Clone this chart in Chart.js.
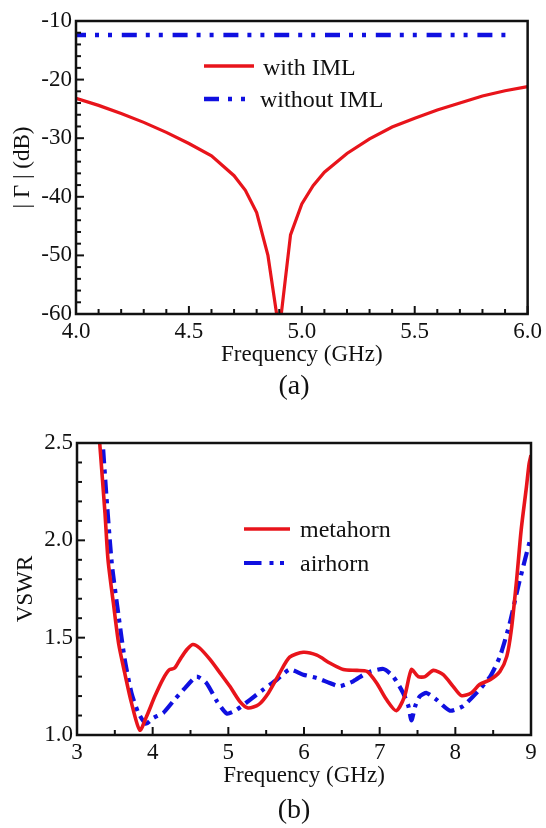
<!DOCTYPE html>
<html>
<head>
<meta charset="utf-8">
<script src="https://cdn.jsdelivr.net/npm/chart.js@4.4.1/dist/chart.umd.min.js"></script>
<style>
  html, body { margin: 0; padding: 0; background: #fff; }
  canvas { display: block; }
</style>
</head>
<body>
<canvas id="chartA" width="546" height="414"></canvas>
<canvas id="chartB" width="546" height="414"></canvas>
<script>
// (a) |Γ| in dB vs frequency
const freqA = [4.0, 4.1, 4.2, 4.3, 4.4, 4.5, 4.6, 4.7, 4.75, 4.8, 4.85, 4.9, 4.95,
  5.0, 5.05, 5.1, 5.2, 5.3, 5.4, 5.5, 5.6, 5.7, 5.8, 5.9, 6.0];
const withIML = [-23.2, -24.4, -25.8, -27.3, -29.0, -30.9, -33.0, -36.4, -38.9, -42.7, -50.0, -63.0, -46.5,
  -41.2, -38.1, -35.8, -32.6, -30.1, -28.1, -26.6, -25.2, -24.0, -22.8, -21.9, -21.2];
const freqNoIML = [4.0, 5.94];
const withoutIML = [-12.4, -12.4];

// (b) VSWR vs frequency
const freqMeta = [3.28, 3.30, 3.37, 3.41, 3.48, 3.55, 3.63, 3.72, 3.83, 3.92, 4.03, 4.14, 4.22, 4.29,
  4.36, 4.45, 4.53, 4.62, 4.76, 4.89, 5.02, 5.15, 5.26, 5.40, 5.53, 5.68, 5.81, 5.99, 6.17, 6.34,
  6.52, 6.70, 6.83, 6.96, 7.09, 7.22, 7.33, 7.42, 7.51, 7.60, 7.71, 7.84, 7.97, 8.08, 8.21, 8.32,
  8.46, 8.59, 8.68, 8.74, 8.81, 8.87, 8.94, 8.975, 9.0];
const metahorn = [2.62, 2.50, 2.14, 1.90, 1.68, 1.47, 1.32, 1.165, 1.025, 1.096, 1.20, 1.29, 1.335, 1.344,
  1.387, 1.438, 1.465, 1.447, 1.387, 1.319, 1.25, 1.173, 1.139, 1.156, 1.216, 1.319, 1.40, 1.425, 1.41, 1.37,
  1.336, 1.332, 1.327, 1.267, 1.182, 1.125, 1.20, 1.336, 1.30, 1.30, 1.332, 1.31, 1.25, 1.202, 1.216, 1.259,
  1.284, 1.327, 1.404, 1.54, 1.797, 2.053, 2.275, 2.394, 2.437];
const freqAir = [3.32, 3.34, 3.39, 3.46, 3.55, 3.63, 3.72, 3.81, 3.91, 4.01, 4.14, 4.27, 4.43, 4.58,
  4.71, 4.85, 4.98, 5.11, 5.29, 5.46, 5.64, 5.81, 5.99, 6.17, 6.34, 6.47, 6.65, 6.83, 7.05, 7.18,
  7.31, 7.38, 7.42, 7.47, 7.53, 7.62, 7.75, 7.93, 8.10, 8.28, 8.46, 8.59, 8.72, 8.83, 8.92, 9.0];
const airhorn = [2.62, 2.50, 2.22, 1.88, 1.61, 1.39, 1.216, 1.114, 1.058, 1.088, 1.114, 1.173, 1.242, 1.30,
  1.267, 1.173, 1.11, 1.13, 1.182, 1.233, 1.284, 1.336, 1.31, 1.293, 1.267, 1.25, 1.276, 1.319, 1.339, 1.30,
  1.216, 1.148, 1.075, 1.148, 1.199, 1.216, 1.182, 1.125, 1.148, 1.216, 1.30, 1.404, 1.575, 1.762, 1.90, 2.02];

const FONT = "'Liberation Serif', 'Times New Roman', serif";
const INK = '#111';
const RED = '#e8141b';
const BLUE = '#1010e0';

function toPoints(xs, ys) {
  return xs.map((x, i) => ({ x: x, y: ys[i] }));
}

// box round the plot with short inward ticks on the left and bottom
function frame(xTicks, yTicks) {
  return {
    id: 'frame',
    afterDatasetsDraw(chart) {
      const ctx = chart.ctx;
      const a = chart.chartArea;
      const sx = chart.scales.x, sy = chart.scales.y;
      ctx.save();
      ctx.strokeStyle = INK;
      ctx.lineWidth = 2;
      for (let i = 0; i <= xTicks.n; i++) {
        const px = sx.getPixelForValue(xTicks.min + i * xTicks.step);
        const len = i % xTicks.every === 0 ? 8 : 5;
        ctx.beginPath(); ctx.moveTo(px, a.bottom); ctx.lineTo(px, a.bottom - len); ctx.stroke();
      }
      for (let i = 0; i <= yTicks.n; i++) {
        const py = sy.getPixelForValue(yTicks.min + i * yTicks.step);
        const len = i % yTicks.every === 0 ? 8 : 5;
        ctx.beginPath(); ctx.moveTo(a.left, py); ctx.lineTo(a.left + len, py); ctx.stroke();
      }
      ctx.lineWidth = 2.5;
      ctx.strokeRect(a.left, a.top, a.right - a.left, a.bottom - a.top);
      ctx.restore();
    }
  };
}

// hand drawn legend and the panel letter
function notes(items, panel) {
  return {
    id: 'notes',
    afterDraw(chart) {
      const ctx = chart.ctx;
      ctx.save();
      items.forEach(it => {
        ctx.strokeStyle = it.color;
        ctx.lineWidth = it.width;
        ctx.setLineDash(it.dash);
        ctx.beginPath(); ctx.moveTo(it.x0, it.y); ctx.lineTo(it.x1, it.y); ctx.stroke();
        ctx.setLineDash([]);
        ctx.fillStyle = INK;
        ctx.font = '24px ' + FONT;
        ctx.textBaseline = 'alphabetic';
        ctx.textAlign = 'left';
        ctx.fillText(it.label, it.tx, it.ty);
      });
      ctx.font = '28px ' + FONT;
      ctx.textAlign = 'center';
      ctx.fillText(panel.text, panel.x, panel.y);
      ctx.restore();
    }
  };
}

function makeChart(id, cfg) {
  return new Chart(document.getElementById(id), {
    type: 'line',
    data: { datasets: cfg.datasets },
    options: {
      responsive: false,
      animation: false,
      devicePixelRatio: 1,
      layout: { padding: cfg.padding },
      elements: { point: { radius: 0 }, line: { tension: 0 } },
      plugins: { legend: { display: false }, tooltip: { enabled: false } },
      scales: {
        x: {
          type: 'linear',
          min: cfg.x.min, max: cfg.x.max,
          grid: { display: false, drawTicks: false },
          border: { display: false },
          ticks: {
            stepSize: cfg.x.step, autoSkip: false, maxRotation: 0, padding: cfg.x.pad,
            color: INK, font: { family: FONT, size: 23 },
            callback: cfg.x.fmt
          },
          title: {
            display: true, text: 'Frequency (GHz)', color: INK,
            font: { family: FONT, size: 23 }, padding: { top: 0, bottom: cfg.x.titlePad }
          },
          afterFit: s => { s.height = cfg.x.height; }
        },
        y: {
          min: cfg.y.min, max: cfg.y.max,
          grid: { display: false, drawTicks: false },
          border: { display: false },
          ticks: {
            stepSize: cfg.y.step, autoSkip: false, padding: 4,
            color: INK, font: { family: FONT, size: 23 },
            callback: cfg.y.fmt
          },
          title: {
            display: true, text: cfg.y.title, color: INK,
            font: { family: FONT, size: 23 }, padding: { top: cfg.y.titlePad, bottom: 0 }
          },
          afterFit: s => { s.width = cfg.y.width; }
        }
      }
    },
    plugins: [frame(cfg.xTicks, cfg.yTicks), notes(cfg.legend, cfg.panel)]
  });
}

makeChart('chartA', {
  datasets: [
    { label: 'with IML', data: toPoints(freqA, withIML), borderColor: RED, borderWidth: 3.2 },
    { label: 'without IML', data: toPoints(freqNoIML, withoutIML), borderColor: BLUE, borderWidth: 4.5,
      borderDash: [15, 9, 4, 9, 4, 9.8], borderDashOffset: 5, borderCapStyle: 'butt' }
  ],
  padding: { left: 0, top: 21, right: 16, bottom: 0 },
  x: { min: 4, max: 6, step: 0.5, pad: 4, height: 100, titlePad: 45, fmt: v => v.toFixed(1) },
  y: { min: -60, max: -10, step: 10, width: 76, title: '| \u0393 | (dB)', titlePad: 9, fmt: v => String(v) },
  xTicks: { min: 4, step: 0.1, n: 20, every: 5 },
  yTicks: { min: -60, step: 2, n: 25, every: 5 },
  legend: [
    { label: 'with IML', color: RED, width: 3.5, dash: [], x0: 204, x1: 254, y: 66, tx: 263, ty: 75 },
    { label: 'without IML', color: BLUE, width: 4.5, dash: [15, 9, 4, 9, 4, 30], x0: 204, x1: 245, y: 99, tx: 260, ty: 107 }
  ],
  panel: { text: '(a)', x: 294, y: 394 }
});

makeChart('chartB', {
  datasets: [
    { label: 'metahorn', data: toPoints(freqMeta, metahorn), borderColor: RED, borderWidth: 3.6, tension: 0.25 },
    { label: 'airhorn', data: toPoints(freqAir, airhorn), borderColor: BLUE, borderWidth: 4.2, tension: 0.2,
      borderDash: [14, 6, 4, 6], borderCapStyle: 'butt' }
  ],
  padding: { left: 0, top: 29, right: 15, bottom: 0 },
  x: { min: 3, max: 9, step: 1, pad: 4, height: 93, titlePad: 38, fmt: v => String(v) },
  y: { min: 1, max: 2.5, step: 0.5, width: 77, title: 'VSWR', titlePad: 12, fmt: v => v.toFixed(1) },
  xTicks: { min: 3, step: 0.5, n: 12, every: 2 },
  yTicks: { min: 1, step: 0.1, n: 15, every: 5 },
  legend: [
    { label: 'metahorn', color: RED, width: 3.6, dash: [], x0: 244, x1: 290, y: 115, tx: 300, ty: 123 },
    { label: 'airhorn', color: BLUE, width: 4.2, dash: [17.5, 8, 4, 6.5, 4, 30], x0: 244, x1: 284, y: 149, tx: 300, ty: 157 }
  ],
  panel: { text: '(b)', x: 294, y: 404 }
});
</script>
</body>
</html>
